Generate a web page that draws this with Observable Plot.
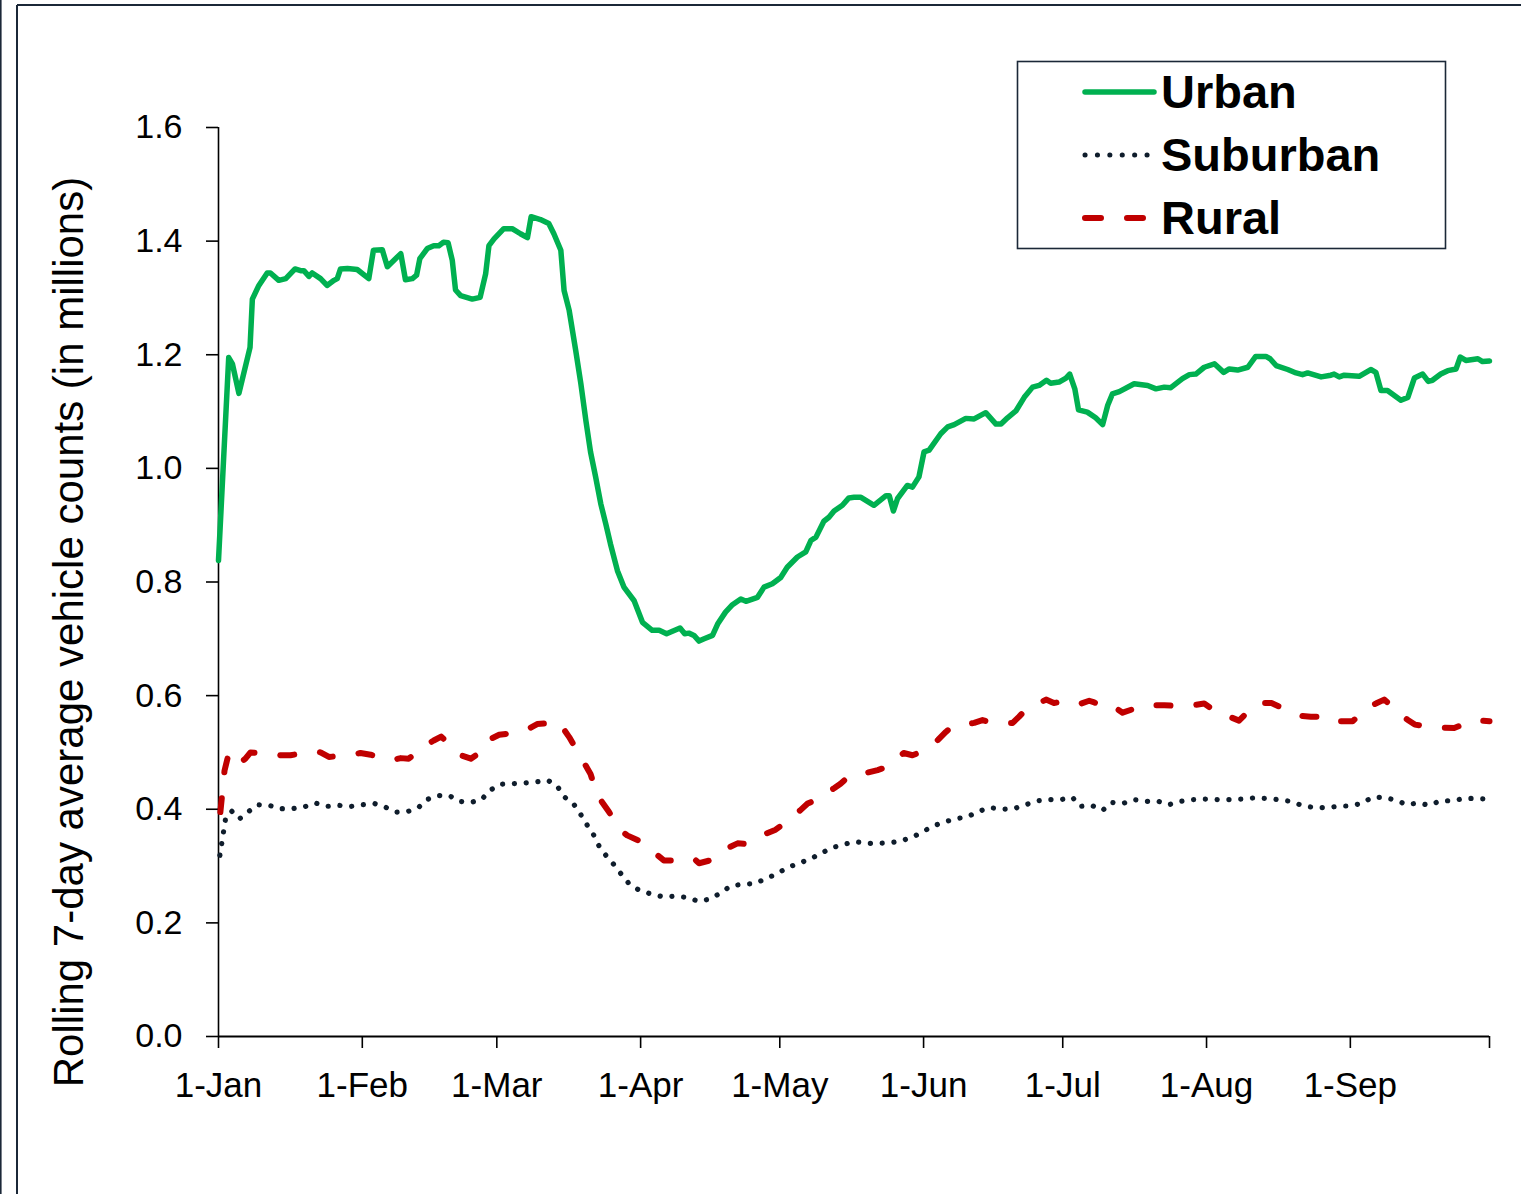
<!DOCTYPE html>
<html>
<head>
<meta charset="utf-8">
<script src="https://cdn.jsdelivr.net/npm/d3@7"></script>
<script src="https://cdn.jsdelivr.net/npm/@observablehq/plot@0.6"></script>
<style>
  html, body { margin: 0; padding: 0; background: #fff; }
  #chart { width: 1521px; height: 1194px; }
</style>
</head>
<body>
<div id="chart"></div>
<script>
// ---- Data (day offset from 1-Jan-2020, value in millions) ----
const urban = [
  [0,0.838],[2.2,1.195],[3.0,1.184],[4.4,1.132],[6.8,1.213],[7.3,1.298],[8.7,1.322],[10.5,1.344],
  [11.2,1.344],[13.0,1.331],[14.5,1.334],[16.5,1.351],[17.7,1.348],[18.4,1.348],[19.5,1.338],[20.2,1.344],
  [22.0,1.334],[23.4,1.322],[24.9,1.331],[25.6,1.334],[26.3,1.351],[27.8,1.352],[29.9,1.350],[32.4,1.334],
  [33.4,1.384],[35.3,1.385],[36.4,1.355],[39.3,1.378],[40.3,1.332],[41.8,1.334],[42.7,1.340],[43.4,1.369],
  [45.0,1.387],[46.4,1.392],[47.5,1.392],[48.5,1.398],[49.5,1.397],[50.4,1.366],[51.1,1.314],[52.2,1.304],
  [54.7,1.298],[56.4,1.301],[57.6,1.343],[58.3,1.392],[59.4,1.404],[61.5,1.422],[63.3,1.422],[65.1,1.413],
  [66.6,1.406],[67.4,1.443],[69.4,1.438],[71.2,1.431],[72.3,1.413],[73.8,1.384],[74.5,1.313],[75.6,1.278],
  [77.0,1.208],[78.1,1.150],[79.2,1.084],[80.2,1.029],[81.3,0.985],[82.4,0.938],[83.5,0.902],[84.5,0.867],
  [86.0,0.820],[87.4,0.791],[89.6,0.767],[91.4,0.729],[93.5,0.715],[95.0,0.715],[96.6,0.709],[99.5,0.719],
  [100.5,0.709],[101.4,0.710],[102.5,0.706],[103.6,0.696],[104.7,0.700],[106.5,0.706],[107.6,0.726],[109.3,0.747],
  [110.8,0.760],[112.6,0.770],[113.7,0.766],[116.2,0.773],[117.6,0.791],[119.4,0.797],[121.2,0.808],[122.6,0.826],
  [124.8,0.844],[126.6,0.853],[127.7,0.873],[128.8,0.879],[130.5,0.907],[131.6,0.914],[132.7,0.925],[134.5,0.935],
  [135.9,0.948],[137.0,0.949],[138.5,0.949],[141.3,0.935],[143.9,0.952],[144.6,0.952],[145.5,0.925],[146.4,0.947],
  [148.5,0.970],[149.6,0.967],[151.0,0.985],[152.1,1.029],[153.2,1.032],[155.7,1.061],[157.2,1.073],[158.6,1.077],
  [161.1,1.088],[162.9,1.087],[165.4,1.098],[167.6,1.078],[168.7,1.078],[170.1,1.089],[171.9,1.101],[173.7,1.125],
  [175.5,1.143],[176.9,1.146],[178.5,1.155],[179.4,1.150],[181.2,1.152],[182.7,1.159],[183.5,1.166],[184.6,1.140],
  [185.4,1.103],[187.3,1.099],[189.1,1.089],[190.6,1.077],[191.7,1.111],[192.7,1.131],[194.2,1.135],[197.4,1.149],
  [200.3,1.146],[202.1,1.140],[203.9,1.143],[205.3,1.142],[207.8,1.158],[209.3,1.165],[210.7,1.166],[212.5,1.178],
  [214.7,1.184],[216.7,1.169],[217.9,1.175],[219.7,1.173],[221.9,1.178],[223.6,1.197],[225.8,1.197],[226.7,1.193],
  [228.0,1.181],[230.5,1.174],[232.3,1.168],[233.7,1.165],[234.8,1.168],[237.7,1.161],[239.8,1.164],[240.5,1.166],
  [241.6,1.161],[242.7,1.164],[245.9,1.162],[248.4,1.174],[249.5,1.169],[250.6,1.137],[252.0,1.137],[254.9,1.120],
  [256.4,1.125],[257.8,1.159],[259.6,1.166],[260.8,1.153],[261.7,1.155],[263.5,1.166],[265.0,1.172],[266.8,1.175],
  [267.7,1.196],[268.9,1.190],[271.5,1.193],[272.5,1.188],[274.0,1.189]
];
const suburban = [
  [0.3,0.319],[0.7,0.340],[1.1,0.361],[1.5,0.382],[2.8,0.397],[4.5,0.383],[6.5,0.396],[8.4,0.408],
  [10.9,0.407],[13.2,0.401],[15.9,0.401],[18.4,0.404],[20.9,0.411],[23.3,0.405],[25.7,0.407],[28.5,0.405],
  [31.1,0.408],[33.6,0.410],[35.9,0.404],[38.3,0.395],[40.8,0.396],[43.1,0.403],[44.9,0.417],[47.3,0.424],
  [49.8,0.424],[51.8,0.414],[54.4,0.412],[56.7,0.417],[58.5,0.433],[60.6,0.444],[63.1,0.445],[65.7,0.446],
  [68.4,0.448],[71.0,0.451],[73.0,0.441],[74.5,0.422],[76.5,0.410],[78.0,0.392],[79.4,0.373],[80.8,0.356],
  [82.0,0.336],[83.5,0.319],[85.3,0.302],[86.9,0.285],[88.5,0.269],[90.6,0.258],[93.2,0.251],[95.8,0.246],
  [98.3,0.247],[100.9,0.245],[103.5,0.238],[106.0,0.242],[108.3,0.253],[110.4,0.265],[113.1,0.268],[115.6,0.269],
  [118.0,0.278],[120.3,0.286],[122.6,0.297],[125.1,0.305],[127.5,0.312],[129.8,0.322],[132.2,0.332],[134.7,0.338],
  [137.2,0.343],[139.8,0.340],[142.3,0.340],[144.8,0.341],[147.1,0.344],[149.6,0.351],[151.8,0.360],[153.9,0.370],
  [156.3,0.377],[158.8,0.383],[161.5,0.387],[163.8,0.396],[166.3,0.403],[168.9,0.400],[171.5,0.401],[174.0,0.408],
  [176.6,0.415],[179.1,0.417],[181.6,0.417],[184.1,0.421],[185.7,0.405],[188.2,0.407],[190.6,0.398],[192.5,0.412],
  [194.9,0.410],[197.3,0.417],[199.9,0.414],[202.6,0.414],[204.9,0.408],[207.5,0.414],[210.1,0.417],[212.6,0.418],
  [215.3,0.417],[218.0,0.417],[220.6,0.418],[223.2,0.420],[225.8,0.419],[228.4,0.417],[231.0,0.414],[233.5,0.407],
  [236.1,0.403],[238.7,0.403],[241.3,0.405],[243.8,0.406],[246.4,0.410],[248.7,0.421],[251.2,0.421],[253.8,0.416],
  [256.2,0.408],[258.6,0.411],[261.0,0.407],[263.5,0.415],[266.1,0.415],[268.5,0.419],[271.1,0.419],[273.6,0.418]
];
const rural = [
  [0.4,0.395],[0.8,0.427],[1.3,0.468],[2.2,0.498],[4.4,0.480],[5.8,0.489],[6.9,0.500],[11.6,0.498],
  [13.4,0.495],[15.5,0.495],[20.2,0.502],[22.0,0.500],[23.8,0.492],[28.8,0.496],[30.6,0.499],[32.8,0.496],
  [37.1,0.486],[39.3,0.490],[41.0,0.489],[44.6,0.512],[46.4,0.521],[48.0,0.528],[51.1,0.503],[52.2,0.495],
  [54.4,0.489],[58.0,0.509],[58.7,0.524],[60.5,0.531],[65.1,0.536],[66.9,0.542],[68.7,0.550],[73.4,0.553],
  [75.6,0.527],[78.1,0.492],[80.2,0.462],[81.7,0.424],[84.2,0.395],[86.7,0.363],[88.1,0.354],[90.3,0.346],
  [94.2,0.322],[96.0,0.310],[97.5,0.310],[102.5,0.313],[103.6,0.305],[106.0,0.310],[110.1,0.333],[111.9,0.340],
  [113.7,0.339],[118.0,0.357],[120.1,0.364],[121.6,0.373],[125.4,0.398],[127.0,0.410],[128.4,0.415],[132.7,0.437],
  [134.1,0.445],[135.9,0.458],[140.1,0.465],[142.1,0.469],[144.0,0.474],[147.7,0.499],[149.6,0.495],[151.2,0.500],
  [155.1,0.522],[156.8,0.536],[158.2,0.546],[162.9,0.552],[164.7,0.557],[166.6,0.552],[171.2,0.552],[172.6,0.563],
  [174.0,0.575],[178.4,0.593],[180.1,0.587],[182.3,0.590],[185.2,0.584],[187.7,0.591],[188.8,0.588],[192.0,0.577],
  [193.1,0.580],[194.9,0.570],[199.6,0.583],[203.9,0.583],[208.5,0.581],[212.5,0.586],[216.1,0.566],[217.9,0.563],
  [220.0,0.556],[223.3,0.583],[225.1,0.587],[227.0,0.587],[231.6,0.570],[233.7,0.564],[235.5,0.563],[240.5,0.563],
  [242.0,0.555],[244.5,0.555],[248.1,0.581],[249.5,0.586],[251.3,0.593],[254.8,0.568],[256.4,0.557],[257.9,0.549],
  [262.5,0.544],[266.4,0.543],[270.7,0.557],[274.0,0.555]
];
const monthTickDates = ["2020-01-01","2020-02-01","2020-03-01","2020-04-01","2020-05-01","2020-06-01","2020-07-01","2020-08-01","2020-09-01","2020-10-01"];
const monthTickLabels = ["1-Jan","1-Feb","1-Mar","1-Apr","1-May","1-Jun","1-Jul","1-Aug","1-Sep",""];
const yTicks = [0, 0.2, 0.4, 0.6, 0.8, 1.0, 1.2, 1.4, 1.6];
const seriesNames = ["Urban", "Suburban", "Rural"];
const yTitle = "Rolling 7-day average vehicle counts (in millions)";

// ---- Build ----
const t0 = Date.UTC(2020, 0, 1);
const toDate = d => new Date(t0 + d * 86400000);
const rows = (arr) => arr.map(([d, v]) => ({date: toDate(d), value: v}));
const tickDates = monthTickDates.map(s => new Date(s + "T00:00:00Z"));
const labelMap = new Map(tickDates.map((d, i) => [+d, monthTickLabels[i]]));

const GREEN = "#00b050", RED = "#c00000", NAVY = "#0f1d2c";
const FONT = "'Liberation Sans', Arial, Helvetica, sans-serif";

const chart = Plot.plot({
  width: 1521,
  height: 1194,
  marginLeft: 218,
  marginRight: 32,
  marginTop: 127,
  marginBottom: 158,
  style: {fontFamily: FONT, fontSize: "34px", background: "white", color: "black", overflow: "visible"},
  x: {type: "utc", domain: [tickDates[0], tickDates[tickDates.length - 1]]},
  y: {domain: [0, 1.6]},
  marks: [
    Plot.axisY({ticks: yTicks, tickFormat: d3.format(".1f"), tickSize: 12, tickPadding: 24, strokeWidth: 1.6, label: null, fontSize: 34}),
    Plot.axisX({ticks: tickDates, tickFormat: d => labelMap.get(+d), tickSize: 12, tickPadding: 24, strokeWidth: 1.6, label: null, fontSize: 35}),
    Plot.ruleX([tickDates[0]], {y1: 0, y2: 1.6, stroke: "black", strokeWidth: 1.6}),
    Plot.ruleY([0], {stroke: "black", strokeWidth: 1.8}),
    Plot.line(rows(rural), {x: "date", y: "value", stroke: RED, strokeWidth: 6, strokeDasharray: "14,26", strokeLinecap: "round", strokeLinejoin: "round"}),
    Plot.line(rows(suburban), {x: "date", y: "value", stroke: NAVY, strokeWidth: 5.2, strokeDasharray: "0.1,11.7", strokeLinecap: "round", strokeLinejoin: "round"}),
    Plot.line(rows(urban), {x: "date", y: "value", stroke: GREEN, strokeWidth: 5.5, strokeLinejoin: "round", strokeLinecap: "round"})
  ]
});

document.getElementById("chart").appendChild(chart);

// ---- Decorations: outer frame, y title, legend ----
const svg = d3.select(chart);
const FRAME = "#1b2838";
svg.append("line").attr("x1", 0.8).attr("x2", 0.8).attr("y1", 0).attr("y2", 1194).attr("stroke", FRAME).attr("stroke-width", 1.6);
svg.append("line").attr("x1", 17).attr("x2", 17).attr("y1", 5).attr("y2", 1194).attr("stroke", FRAME).attr("stroke-width", 2);
svg.append("line").attr("x1", 17).attr("x2", 1521).attr("y1", 5).attr("y2", 5).attr("stroke", FRAME).attr("stroke-width", 2);

svg.append("text")
  .attr("transform", "translate(83,632) rotate(-90)")
  .attr("text-anchor", "middle")
  .attr("font-family", FONT)
  .attr("font-size", 42)
  .attr("fill", "black")
  .text(yTitle);

const lg = svg.append("g");
lg.append("rect").attr("x", 1017.5).attr("y", 61.5).attr("width", 428).attr("height", 187)
  .attr("fill", "white").attr("stroke", FRAME).attr("stroke-width", 1.6);
const legendStyles = [
  {stroke: GREEN, width: 5.5, dash: null, x2: 1154},
  {stroke: NAVY, width: 5, dash: "0.1,12.3", x2: 1150},
  {stroke: RED, width: 6, dash: "16,26", x2: 1147}
];
seriesNames.forEach((name, i) => {
  const st = legendStyles[i];
  const yLine = 92 + i * 63;
  const l = lg.append("line").attr("x1", 1085).attr("x2", st.x2).attr("y1", yLine).attr("y2", yLine)
    .attr("stroke", st.stroke).attr("stroke-width", st.width).attr("stroke-linecap", "round");
  if (st.dash) l.attr("stroke-dasharray", st.dash);
  lg.append("text").attr("x", 1161).attr("y", 108 + i * 63)
    .attr("text-anchor", "start")
    .attr("font-family", FONT).attr("font-weight", "bold").attr("font-size", 47)
    .attr("fill", "black").text(name);
});
</script>
</body>
</html>
